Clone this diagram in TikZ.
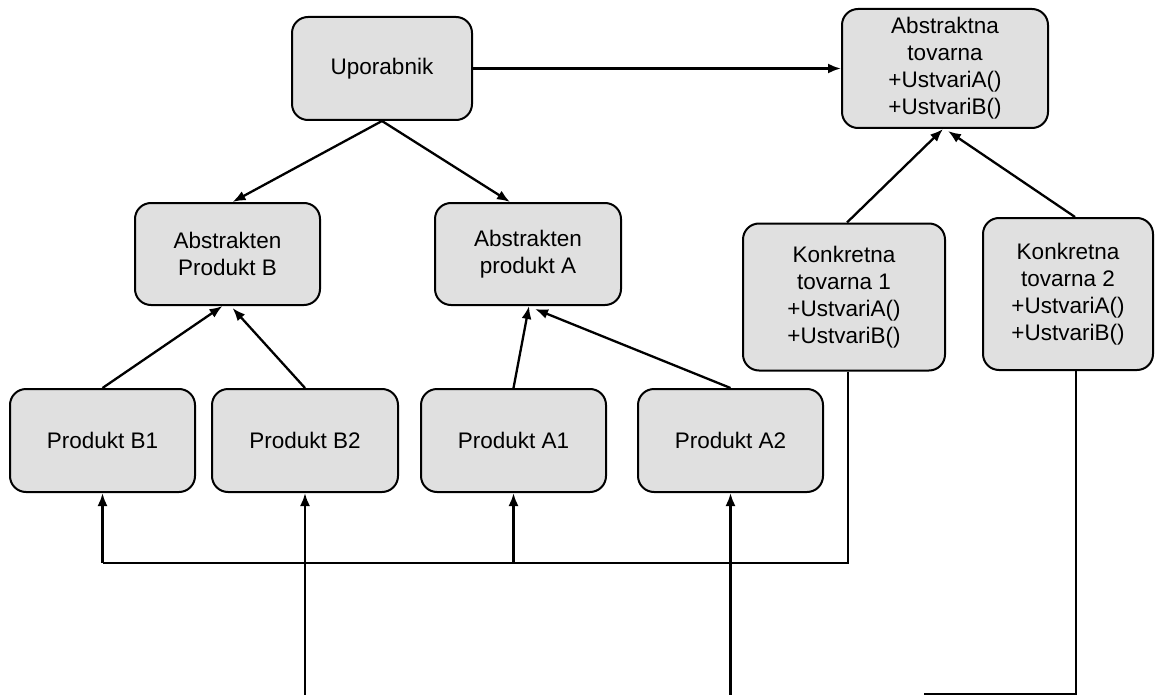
\documentclass[tikz,border=0pt]{standalone}
\usepackage{fontspec}
\setmainfont{Liberation Sans}
\usetikzlibrary{arrows.meta,calc}
\definecolor{boxgray}{RGB}{224,224,224}
\begin{document}
\begin{tikzpicture}[x=1pt,y=-1pt,
  box/.style={draw=black, line width=2pt, rounded corners=16pt, fill=boxgray,
              align=center, inner sep=0pt, font=\fontsize{22.5}{27}\selectfont},
  link/.style={line width=2.3pt, -{Latex[length=13pt,width=10pt]}},
  wire/.style={line width=2.3pt}]
\useasboundingbox (0,0) rectangle (1158,695);

% client and abstract factory
\node[box, minimum width=180pt, minimum height=103pt] (user) at (382,68.5) {Uporabnik};
\node[box, minimum width=206pt, minimum height=119pt] (af) at (945,68.5)
  {Abstraktna\\tovarna\\+UstvariA()\\+UstvariB()};

% concrete factories
\node[box, minimum width=202pt, minimum height=147pt] (cf1) at (844,297)
  {Konkretna\\tovarna 1\\+UstvariA()\\+UstvariB()};
\node[box, minimum width=170pt, minimum height=152pt] (cf2) at (1068,294)
  {Konkretna\\tovarna 2\\+UstvariA()\\+UstvariB()};

% abstract products
\node[box, minimum width=185pt, minimum height=102pt] (apb) at (227.5,254) {Abstrakten\\Produkt B};
\node[box, minimum width=186pt, minimum height=102pt] (apa) at (528,254) {Abstrakten\\produkt A};

% concrete products
\node[box, minimum width=185pt, minimum height=103pt] (pb1) at (102.5,440.5) {Produkt B1};
\node[box, minimum width=186pt, minimum height=103pt] (pb2) at (305,440.5) {Produkt B2};
\node[box, minimum width=185pt, minimum height=103pt] (pa1) at (513.5,440.5) {Produkt A1};
\node[box, minimum width=185pt, minimum height=103pt] (pa2) at (730.5,440.5) {Produkt A2};

% client associations
\draw[link] (user.east) -- (af.west);
\draw[link] (user.south) -- ($(apb.north)+(5,0)$);
\draw[link] (user.south) -- ($(apa.north)+(-18,0)$);

% inheritance
\draw[link] (pb1.north) -- ($(apb.south)+(-5,0)$);
\draw[link] (pb2.north) -- ($(apb.south)+(5,2)$);
\draw[link] (pa1.north) -- ($(apa.south)+(1,0)$);
\draw[link] (pa2.north) -- ($(apa.south)+(7,3)$);
\draw[link] ($(cf1.north)+(3,0)$) -- ($(af.south)+(-2,0)$);
\draw[link] ($(cf2.north)+(7,0)$) -- ($(af.south)+(3,2)$);

% factory 1 creates B1 and A1
\coordinate (c1top) at ($(cf1.south)+(4,0)$);
\coordinate (c1bus) at (c1top |- 0,563);
\coordinate (busA1) at (pa1.south |- c1bus);
\draw[wire] (c1top) -- (c1bus) -- (pb1.south |- c1bus) coordinate (busB1);
\draw[link] (busB1) -- (pb1.south);
\draw[link] (busA1) -- (pa1.south);

% factory 2 creates B2 and A2
\coordinate (c2top) at ($(cf2.south)+(8,0)$);
\coordinate (c2low) at (c2top |- 0,694);
\coordinate (c2end) at ($(c2low)+(-152,0)$);
\draw[wire] (c2top) -- (c2low) -- (c2end);
\coordinate (b2foot) at (pb2.south |- 0,697);
\coordinate (a2foot) at (pa2.south |- 0,697);
\draw[link] (b2foot) -- (pb2.south);
\draw[link] (a2foot) -- (pa2.south);
\end{tikzpicture}
\end{document}
